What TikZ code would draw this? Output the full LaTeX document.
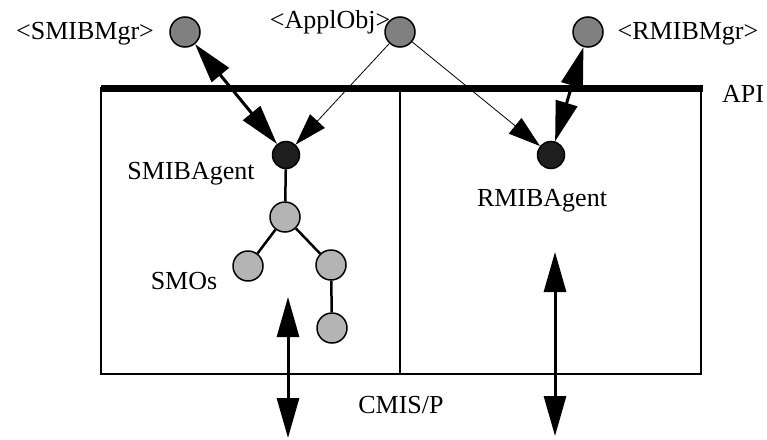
\documentclass[tikz,border=0pt]{standalone}
\usepackage{fontspec}
\setmainfont{Liberation Serif}
\usetikzlibrary{arrows.meta}
\definecolor{mgrgray}{RGB}{128,128,128}
\definecolor{agentdark}{RGB}{30,30,30}
\definecolor{smogray}{RGB}{180,180,180}

\begin{document}
\begin{tikzpicture}[x=1pt,y=-1pt,
  obj/.style={circle, draw, line width=1.5pt, minimum size=30pt, inner sep=0pt},
  mgr/.style={obj, fill=mgrgray},
  agent/.style={obj, fill=agentdark, minimum size=27pt},
  smo/.style={obj, fill=smogray},
  lbl/.style={font=\fontsize{26}{30}\selectfont, inner sep=0pt, anchor=base},
  bigarrow/.style={line width=3pt, >={Triangle[length=40pt,width=22pt]}, <->},
  thinarrow/.style={line width=0.8pt, -{Triangle[length=32pt,width=20pt]}}]
  \useasboundingbox (0,0) rectangle (767,439);
  % boxes
  \draw[line width=2.5pt] (101,88) rectangle (701,374);
  \draw[line width=2.5pt] (400,88) -- (400,374);
  \draw[line width=7pt] (101,88) -- (703,88);
  % objects
  \node[mgr] (smibmgr) at (185,32) {};
  \node[mgr] (applobj) at (400,32) {};
  \node[mgr] (rmibmgr) at (588,32) {};
  \node[agent] (smibagent) at (286,155) {};
  \node[agent] (rmibagent) at (551,155) {};
  \node[smo] (smoa) at (285,217) {};
  \node[smo] (smob) at (248,266) {};
  \node[smo] (smoc) at (331,265) {};
  \node[smo] (smod) at (332,328) {};
  % labels
  \node[lbl] (lsmibmgr) at (85,39) {<SMIBMgr>};
  \node[lbl] (lapplobj) at (330,28) {<ApplObj>};
  \node[lbl] (lrmibmgr) at (688,39) {<RMIBMgr>};
  \node[lbl] (lapi) at (743,102) {API};
  \node[lbl] (lsmibagent) at (191,179) {SMIBAgent};
  \node[lbl] (lrmibagent) at (542,206) {RMIBAgent};
  \node[lbl] (lsmos) at (184,289) {SMOs};
  \node[lbl] (lcmisp) at (401,413) {CMIS/P};
  % tree
  \draw[line width=2.5pt] (smibagent) -- (smoa);
  \draw[line width=2.5pt] (smoa) -- (smob);
  \draw[line width=2.5pt] (smoa) -- (smoc);
  \draw[line width=2.5pt] (smoc) -- (smod);
  % connectors
  \draw[bigarrow] (smibmgr) -- (smibagent);
  \draw[bigarrow] (rmibmgr) -- (rmibagent);
  \draw[thinarrow] (applobj) -- (smibagent);
  \draw[thinarrow] (applobj) -- (rmibagent);
  \coordinate (cmisltop) at (288,297);
  \coordinate (cmislbot) at (288,438);
  \coordinate (cmisrtop) at (555,252);
  \coordinate (cmisrbot) at (555,436);
  \draw[bigarrow] (cmisltop) -- (cmislbot);
  \draw[bigarrow] (cmisrtop) -- (cmisrbot);
\end{tikzpicture}
\end{document}
